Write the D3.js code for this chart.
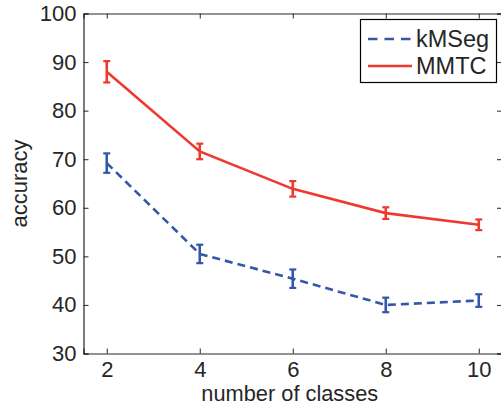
<!DOCTYPE html>
<html><head><meta charset="utf-8">
<script src="https://cdn.jsdelivr.net/npm/d3@7"></script>
<style>
html,body{margin:0;padding:0;background:#fff;}
svg{display:block;}
text{font-family:"Liberation Sans",Arial,Helvetica,sans-serif;fill:#262626;}
</style></head>
<body>
<script>
const classes = [2, 4, 6, 8, 10];
const kmsegValues = [69.2, 50.5, 45.4, 40.0, 40.9];
const kmsegErrors = [2.0, 1.9, 1.9, 1.5, 1.3];
const mmtcValues = [88.0, 71.6, 63.9, 58.9, 56.5];
const mmtcErrors = [2.2, 1.6, 1.6, 1.2, 1.1];
const xTicks = [2, 4, 6, 8, 10];
const yTicks = [30, 40, 50, 60, 70, 80, 90, 100];
const seriesNames = ["kMSeg", "MMTC"];

const W = 501, H = 406;
const svg = d3.select("body").append("svg").attr("width", W).attr("height", H);

const x = d3.scaleLinear().domain([1.5, 10.5]).range([83.5, 502]);
const y = d3.scaleLinear().domain([30, 100]).range([353.5, 13.5]);

const series = [
  {name: seriesNames[0], values: kmsegValues, errors: kmsegErrors, color: "#3457aa", dash: "8,5"},
  {name: seriesNames[1], values: mmtcValues, errors: mmtcErrors, color: "#ee3a2e", dash: null}
];

const axisColor = "#262626";
const tickLen = 5;

const g = svg.append("g");
const xAxisB = d3.axisBottom(x).tickValues(xTicks).tickSize(-tickLen).tickPadding(7.5).tickFormat(d3.format("d"));
const xAxisT = d3.axisTop(x).tickValues(xTicks).tickSize(-tickLen).tickFormat("");
const yAxisL = d3.axisLeft(y).tickValues(yTicks).tickSize(-tickLen).tickPadding(7).tickFormat(d3.format("d"));
const yAxisR = d3.axisRight(y).tickValues(yTicks).tickSize(-tickLen).tickFormat("");

function style(sel){
  sel.select(".domain").attr("stroke", axisColor).attr("stroke-width", 1.2);
  sel.selectAll(".tick line").attr("stroke", axisColor).attr("stroke-width", 1);
  sel.selectAll(".tick text").style("font-size", "22px").attr("fill", "#262626");
}
g.append("g").attr("transform", `translate(0,${y(30)})`).call(xAxisB).call(style);
g.append("g").attr("transform", `translate(0,${y(100)})`).call(xAxisT).call(style);
g.append("g").attr("transform", `translate(${x(1.5)},0)`).call(yAxisL).call(style);
g.append("g").attr("transform", `translate(${x(10.5)},0)`).call(yAxisR).call(style);

// Axis labels
svg.append("text").attr("x", (x(1.5)+x(10.5))/2 - 3).attr("y", 401.3)
  .attr("text-anchor", "middle").style("font-size", "21.8px").text("number of classes");
svg.append("text").attr("transform", `translate(27,${(y(30)+y(100))/2}) rotate(-90)`)
  .attr("text-anchor", "middle").style("font-size", "22px").text("accuracy");

// Lines and error bars
const line = d3.line().x((d,i) => x(classes[i])).y(d => y(d));
const capW = 3.5;
series.forEach(s => {
  const p = svg.append("path").datum(s.values).attr("d", line)
    .attr("fill", "none").attr("stroke", s.color).attr("stroke-width", 2.6);
  if (s.dash) p.attr("stroke-dasharray", s.dash);
  const eb = svg.append("g").selectAll("g").data(s.values).join("g");
  eb.append("line")
    .attr("x1", (d,i) => x(classes[i])).attr("x2", (d,i) => x(classes[i]))
    .attr("y1", (d,i) => y(d - s.errors[i])).attr("y2", (d,i) => y(d + s.errors[i]))
    .attr("stroke", s.color).attr("stroke-width", 2.6);
  [-1, 1].forEach(sign => {
    eb.append("line")
      .attr("x1", (d,i) => x(classes[i]) - capW).attr("x2", (d,i) => x(classes[i]) + capW)
      .attr("y1", (d,i) => y(d + sign*s.errors[i])).attr("y2", (d,i) => y(d + sign*s.errors[i]))
      .attr("stroke", s.color).attr("stroke-width", 2.2);
  });
});

// Legend
const lg = svg.append("g");
lg.append("rect").attr("x", 360.5).attr("y", 19.5).attr("width", 136).attr("height", 63)
  .attr("fill", "#fff").attr("stroke", "#000").attr("stroke-width", 1.2);
series.forEach((s, i) => {
  const yy = 39 + i*27;
  const l = lg.append("line").attr("x1", 368).attr("x2", 412).attr("y1", yy).attr("y2", yy)
    .attr("stroke", s.color).attr("stroke-width", 2.6);
  if (s.dash) l.attr("stroke-dasharray", "9.5,7");
  lg.append("text").attr("x", 416).attr("y", yy + 8).style("font-size", "23.5px").text(s.name);
});
</script>
</body></html>
